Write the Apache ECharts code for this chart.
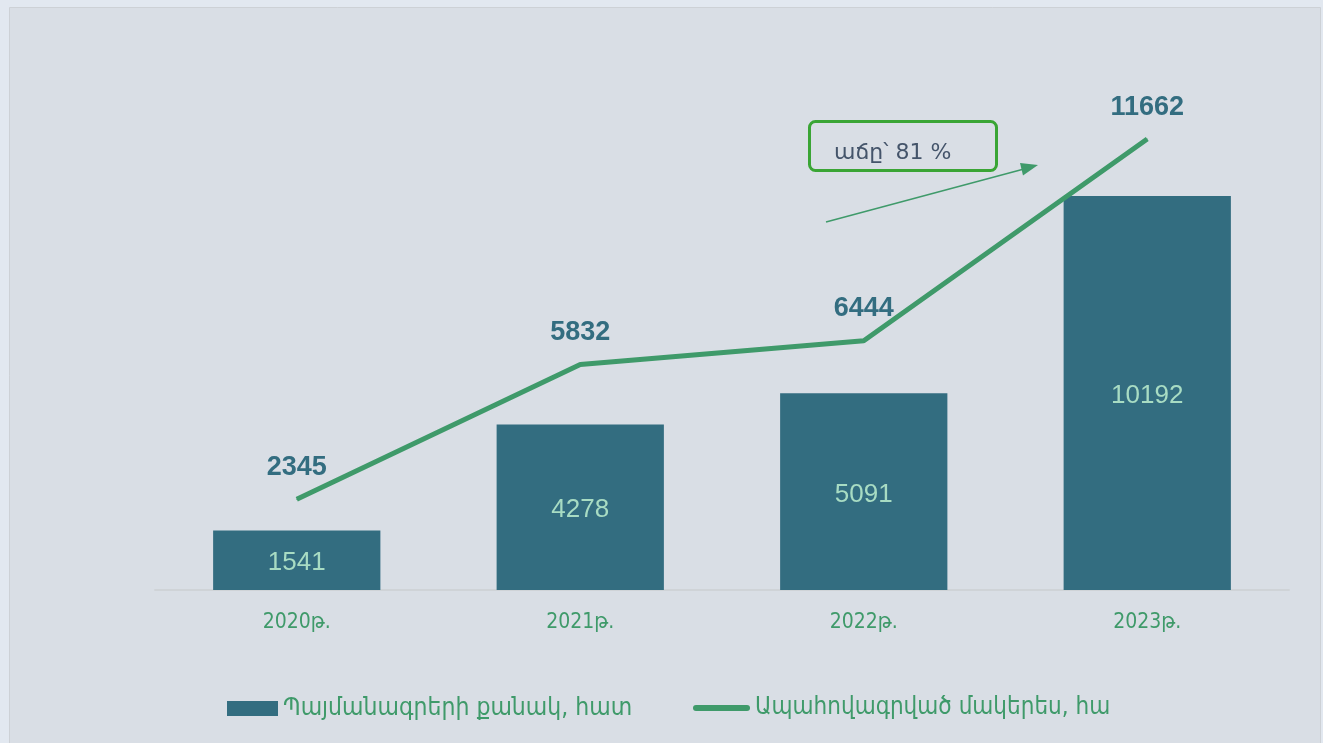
<!DOCTYPE html>
<html>
<head>
<meta charset="utf-8">
<script src="https://cdn.jsdelivr.net/npm/echarts@6/dist/echarts.min.js"></script>
<style>
    html, body { margin: 0; padding: 0; background: #e2e8f0; }
    #chart { width: 1323px; height: 743px; }
</style>
</head>
<body>
<div id="chart"></div>
<script>
    // data
    const years = ['2020թ.', '2021թ.', '2022թ.', '2023թ.'];
    const contracts = [1541, 4278, 5091, 10192];
    const insuredArea = [2345, 5832, 6444, 11662];
    const barName = 'Պայմանագրերի քանակ, հատ';
    const lineName = 'Ապահովագրված մակերես, հա';
    const growthText = 'աճը՝ 81 %';

    const green = '#3f9a6a';
    const teal = '#336d80';
    const armFont = '"DejaVu Sans Condensed", "DejaVu Sans", sans-serif';

    const chart = echarts.init(document.getElementById('chart'));
    chart.setOption({
        backgroundColor: '#e2e8f0',
        animation: false,
        grid: { left: 155, right: 34, top: 126, bottom: 153 },
        xAxis: {
            type: 'category',
            data: years,
            axisLine: { lineStyle: { color: '#cfd3d7', width: 2 } },
            axisTick: { show: false },
            axisLabel: { color: green, fontSize: 21, fontFamily: armFont, margin: 22 }
        },
        yAxis: {
            type: 'value',
            min: 0,
            max: 12000,
            show: false
        },
        legend: [
            {
                data: [barName],
                left: 227, top: 696, padding: 0,
                icon: 'rect',
                itemWidth: 51, itemHeight: 15,
                textStyle: { color: green, fontSize: 24.5, fontFamily: armFont }
            },
            {
                data: [lineName],
                left: 693, top: 696, padding: 0,
                icon: 'path://M3,0 H54 A3,3 0 0 1 54,6 H3 A3,3 0 0 1 3,0 Z',
                itemWidth: 57, itemHeight: 6,
                textStyle: { color: green, fontSize: 24, fontFamily: armFont }
            }
        ],
        graphic: [
            {
                type: 'rect', z: -10, silent: true,
                shape: { x: 9.5, y: 7.5, width: 1311, height: 740 },
                style: { fill: '#d9dee5', stroke: '#cdd1d6', lineWidth: 1 }
            },
            {
                type: 'rect', z: 10,
                shape: { x: 809.5, y: 121.5, width: 187, height: 49, r: 6 },
                style: { fill: 'transparent', stroke: '#3aa535', lineWidth: 3 }
            },
            {
                type: 'text', z: 11,
                x: 834, y: 153,
                style: {
                    text: growthText, fill: '#44546a', fontSize: 22,
                    fontFamily: '"DejaVu Sans", sans-serif', verticalAlign: 'middle'
                }
            },
            {
                type: 'line', z: 10,
                shape: { x1: 826, y1: 222, x2: 1024, y2: 169 },
                style: { stroke: green, lineWidth: 1.5 }
            },
            {
                type: 'polygon', z: 10,
                shape: { points: [[1038, 165], [1023, 175.5], [1020, 163]] },
                style: { fill: green }
            }
        ],
        series: [
            {
                name: barName,
                type: 'bar',
                data: contracts,
                barWidth: '59%',
                itemStyle: { color: teal },
                label: {
                    show: true,
                    position: 'inside',
                    offset: [0, 3],
                    color: '#a8dcc3',
                    fontSize: 26,
                    fontFamily: 'Liberation Sans, Arial, sans-serif'
                }
            },
            {
                name: lineName,
                type: 'line',
                data: insuredArea,
                symbol: 'circle',
                symbolSize: 1,
                showSymbol: true,
                lineStyle: { color: green, width: 5 },
                itemStyle: { color: green },
                label: {
                    show: true,
                    position: 'top',
                    distance: 18,
                    color: teal,
                    fontSize: 27,
                    fontWeight: 'bold',
                    fontFamily: 'Liberation Sans, Arial, sans-serif'
                }
            }
        ]
    });
</script>
</body>
</html>
